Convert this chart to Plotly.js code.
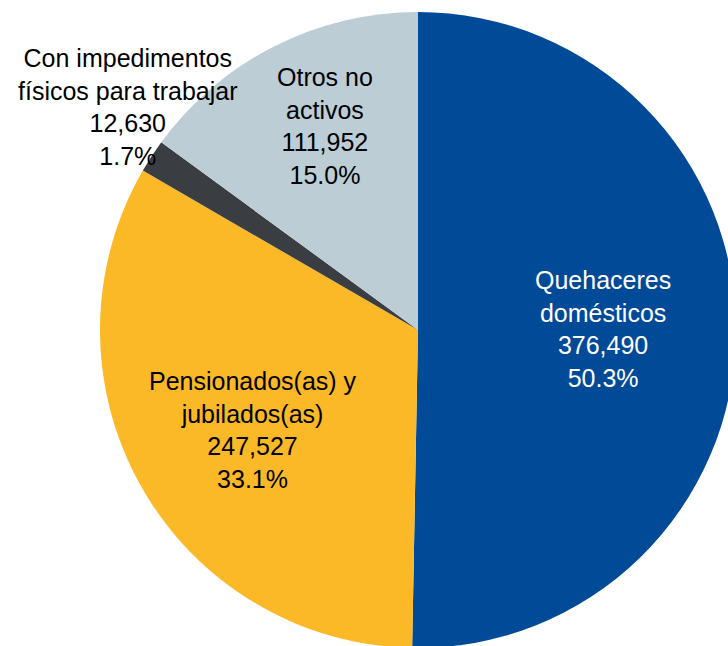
<!DOCTYPE html>
<html>
<head>
<meta charset="utf-8">
<script src="https://cdn.plot.ly/plotly-3.0.1.min.js"></script>
<style>
  html, body { margin: 0; padding: 0; width: 728px; height: 646px; overflow: hidden; background: #fff; }
  #chart { position: absolute; left: 0; top: 0; width: 760px; height: 660px; }
</style>
</head>
<body>
<div id="chart"></div>
<script>
// Data
var categories = ["Quehaceres domésticos", "Pensionados(as) y jubilados(as)", "Con impedimentos físicos para trabajar", "Otros no activos"];
var labelLines = [["Quehaceres", "domésticos"], ["Pensionados(as) y", "jubilados(as)"], ["Con impedimentos", "físicos para trabajar"], ["Otros no", "activos"]];
var values = [376490, 247527, 12630, 111952];
var colors = ["#004a98", "#fbb927", "#3a3e42", "#bccdd5"];
var textColors = ["#ffffff", "#000000", "#000000", "#000000"];

// Layout (label centres in page pixels)
var W = 760, H = 660;
var labelPos = [[603, 329], [253, 430], [128, 107], [325, 126]];

var total = values.reduce(function (a, b) { return a + b; }, 0);
function fmtInt(v) { return v.toString().replace(/\B(?=(\d{3})+(?!\d))/g, ","); }

var annotations = categories.map(function (c, i) {
  var pct = (values[i] / total * 100).toFixed(1) + "%";
  return {
    xref: "paper", yref: "paper",
    x: labelPos[i][0] / W, y: 1 - labelPos[i][1] / H,
    xanchor: "center", yanchor: "middle",
    text: labelLines[i].join("<br>") + "<br>" + fmtInt(values[i]) + "<br>" + pct,
    showarrow: false, align: "center",
    font: { family: "Liberation Sans, Arial, sans-serif", size: 25, color: textColors[i] }
  };
});

var trace = {
  type: "pie",
  labels: categories,
  values: values,
  sort: false,
  direction: "clockwise",
  rotation: 0,
  marker: { colors: colors, line: { width: 0 } },
  textinfo: "none",
  hoverinfo: "skip",
  showlegend: false,
  domain: { x: [100 / W, 736 / W], y: [12 / H, 648 / H] }
};

var layout = {
  width: W, height: H,
  margin: { l: 0, r: 0, t: 0, b: 0 },
  paper_bgcolor: "#ffffff",
  showlegend: false,
  annotations: annotations
};

Plotly.newPlot("chart", [trace], layout, { displayModeBar: false, staticPlot: true });
</script>
</body>
</html>
